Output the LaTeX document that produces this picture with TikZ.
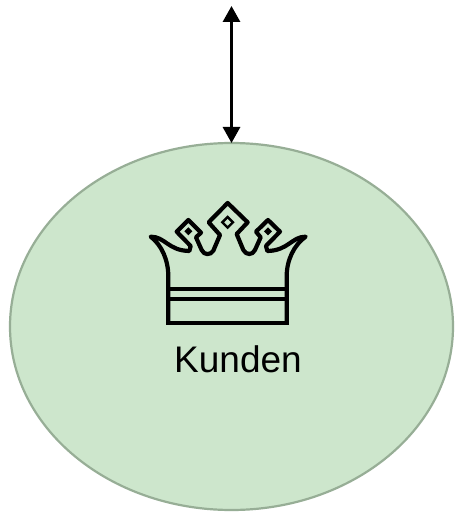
\documentclass[tikz,border=0pt]{standalone}
\usepackage{fontspec}
\setmainfont{Liberation Sans}
\usetikzlibrary{shapes.geometric,arrows.meta}
\definecolor{kfill}{HTML}{CDE6CC}
\definecolor{kline}{HTML}{97AE96}
\tikzset{
  kundenshape/.style={ellipse,draw=kline,fill=kfill,line width=2.2pt,minimum width=443pt,minimum height=367pt,inner sep=0pt,outer sep=0pt},
  kundentext/.style={inner sep=0pt,font=\fontsize{37}{40}\selectfont,text=black},
  link/.style={draw=black,line width=3pt,{Triangle[length=16pt,width=17pt]}-{Triangle[length=16pt,width=17pt]},shorten >=0pt,shorten <=0pt},
  crownline/.style={draw=black,line width=4.2pt,line join=round,line cap=butt}
}
\begin{document}
\begin{tikzpicture}[x=1pt,y=1pt]
\useasboundingbox (0,0) rectangle (462,-513);
\fill[white] (0,0) rectangle (462,-513);
\node[kundenshape] (kunden) at (231.5,-326.5) {};
\coordinate (free) at (231.5,-6);
\draw[link] (free) -- (kunden.north);
\begin{scope}[shift={(140,-190)},x=0.3333pt,y=-0.3333pt]
\draw[crownline] (85,400) -- (85,260) .. controls (85,210) and (65,165) .. (32,140)
  .. controls (75,140) and (85,182) .. (148,183)
  -- (152,168) -- (110,125) -- (145,90) -- (183,128) -- (168,142)
  -- (185,180) .. controls (192,196) and (212,196) .. (220,182)
  -- (240,135) -- (206,97) -- (263,39) -- (323,97) -- (290,132)
  -- (310,180) .. controls (318,196) and (338,196) .. (345,180)
  -- (362,142) -- (348,125) -- (384,90) -- (420,125) -- (378,168) -- (382,183)
  .. controls (445,182) and (455,140) .. (497,140)
  .. controls (462,165) and (440,210) .. (440,260) -- (440,400);
\draw[crownline,line join=miter] (85,380) -- (85,400) -- (440,400) -- (440,380);
\draw[crownline] (85,298) -- (440,298);
\draw[crownline] (85,327) -- (440,327);
\fill[black] (145,112) -- (157,124) -- (145,136) -- (133,124) -- cycle;
\fill[black] (263,76) -- (284,97) -- (263,118) -- (242,97) -- cycle;
\fill[kfill] (263,87) -- (273,97) -- (263,107) -- (253,97) -- cycle;
\fill[black] (384,112) -- (396,124) -- (384,136) -- (372,124) -- cycle;
\end{scope}
\node[kundentext] (label) at (238,-359.5) {Kunden};
\end{tikzpicture}
\end{document}
